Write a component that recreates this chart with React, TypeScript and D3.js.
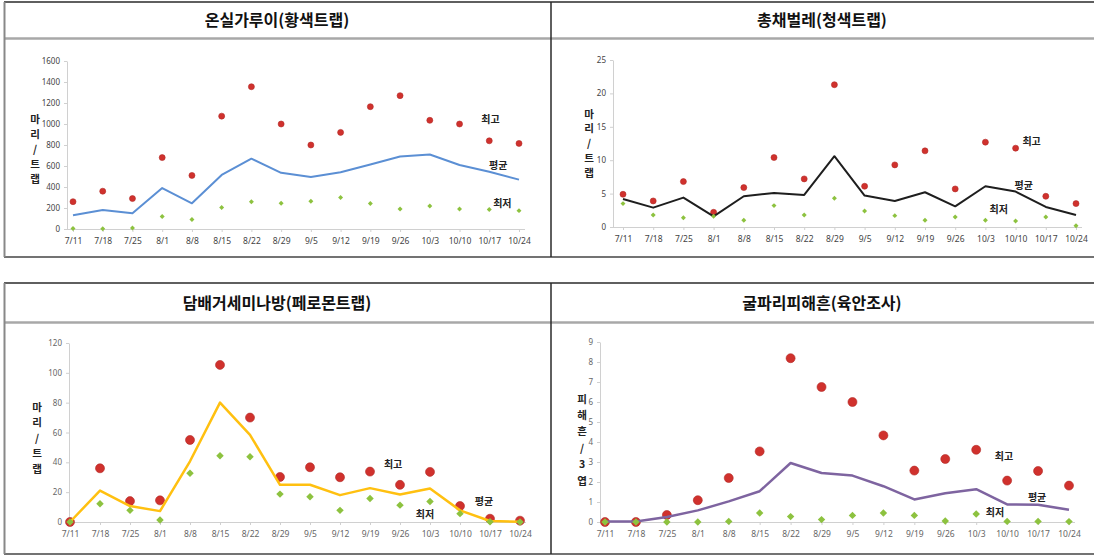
import React, { useEffect, useRef } from "react";
import * as d3 from "d3";

// survey dates (x categories)
const dates = ["7/11", "7/18", "7/25", "8/1", "8/8", "8/15", "8/22", "8/29", "9/5", "9/12", "9/19", "9/26", "10/3", "10/10", "10/17", "10/24"];

// 온실가루이 (황색트랩)
const whiteflyMax = [260, 360, 290, 680, 510, 1075, 1355, 1000, 800, 920, 1165, 1270, 1035, 1000, 840, 815];
const whiteflyAvg = [130, 180, 150, 390, 245, 515, 670, 535, 495, 540, 615, 690, 710, 610, 545, 470];
const whiteflyMin = [5, 3, 10, 120, 90, 205, 260, 245, 265, 300, 242, 190, 220, 190, 185, 175];

// 총채벌레 (청색트랩)
const thripsMax = [4.9, 3.9, 6.8, 2.2, 5.9, 10.4, 7.2, 21.3, 6.1, 9.3, 11.4, 5.7, 12.7, 11.8, 4.6, 3.5];
const thripsAvg = [4.2, 2.9, 4.4, 1.6, 4.6, 5.1, 4.8, 10.6, 4.7, 3.9, 5.2, 3.1, 6.1, 5.3, 3.0, 1.8];
const thripsMin = [3.5, 1.8, 1.4, 1.6, 1.0, 3.2, 1.8, 4.3, 2.4, 1.7, 1.0, 1.5, 1.0, 0.9, 1.5, 0.2];

// 담배거세미나방 (페로몬트랩)
const armywormMax = [0, 36, 14, 14.5, 55, 105.3, 70, 30.2, 36.7, 30, 33.8, 24.9, 33.6, 10.7, 2.2, 0.9];
const armywormAvg = [0, 21.1, 10.7, 7.3, 40.7, 80, 58.4, 24.9, 25, 18, 22.7, 18.4, 22.4, 7.8, 0.7, 0.2];
const armywormMin = [0, 12.2, 7.8, 1.3, 32.7, 44.4, 43.8, 18.7, 16.9, 7.8, 15.8, 11.3, 13.8, 5.6, 0.2, 0];

// 굴파리 피해흔 (육안조사)
const leafminerMax = [0, 0, 0.35, 1.09, 2.2, 3.53, 8.19, 6.75, 6.0, 4.33, 2.57, 3.15, 3.61, 2.07, 2.55, 1.82];
const leafminerAvg = [0.02, 0.03, 0.25, 0.58, 1.03, 1.54, 2.95, 2.45, 2.32, 1.79, 1.13, 1.44, 1.64, 0.88, 0.86, 0.61];
const leafminerMin = [0, 0, 0, 0, 0.03, 0.45, 0.27, 0.12, 0.33, 0.45, 0.33, 0.05, 0.4, 0.03, 0.03, 0.02];

const seriesNames = ["최고", "평균", "최저"];

const KR = "'Noto Sans CJK KR', 'Noto Sans', sans-serif";
const NUM = "'Noto Sans', 'Liberation Sans', sans-serif";

interface Panel {
  title: string;
  titleX: number;
  titleY: number;
  yLabel: string[];
  yLabelX: number;
  yLabelY: number;
  yLabelGap: number;
  yMax: number;
  yStep: number;
  axisX: number;
  firstX: number;
  lastX: number;
  y0: number;
  yTop: number;
  color: string;
  lineW: number;
  dotR: number;
  diaR: number;
  tickColor: string;
  maxV: number[];
  avgV: number[];
  minV: number[];
  // label anchors in data units: [category index, value]
  labelAt: [number, number][];
}

const panels: Panel[] = [
  {
    title: "온실가루이(황색트랩)", titleX: 277, titleY: 26,
    yLabel: ["마", "리", "/", "트", "랩"], yLabelX: 35, yLabelY: 118, yLabelGap: 15,
    yMax: 1600, yStep: 200, axisX: 67, firstX: 73, lastX: 519, y0: 229, yTop: 61,
    color: "#5b8fd4", lineW: 2, dotR: 3, diaR: 2.8, tickColor: "#444",
    maxV: whiteflyMax, avgV: whiteflyAvg, minV: whiteflyMin,
    labelAt: [[14.04, 1057], [14.3, 610], [14.44, 257]],
  },
  {
    title: "총채벌레(청색트랩)", titleX: 822, titleY: 26,
    yLabel: ["마", "리", "/", "트", "랩"], yLabelX: 589, yLabelY: 113, yLabelGap: 14.8,
    yMax: 25, yStep: 5, axisX: 613, firstX: 623, lastX: 1076, y0: 227, yTop: 60,
    color: "#1e1e1e", lineW: 2, dotR: 3, diaR: 2.8, tickColor: "#444",
    maxV: thripsMax, avgV: thripsAvg, minV: thripsMin,
    labelAt: [[13.53, 12.9], [13.27, 6.4], [12.44, 2.7]],
  },
  {
    title: "담배거세미나방(페로몬트랩)", titleX: 277, titleY: 309,
    yLabel: ["마", "리", "/", "트", "랩"], yLabelX: 37, yLabelY: 406, yLabelGap: 15.5,
    yMax: 120, yStep: 20, axisX: 69, firstX: 70, lastX: 520, y0: 522, yTop: 343,
    color: "#ffc010", lineW: 2.5, dotR: 4.5, diaR: 4.2, tickColor: "#666",
    maxV: armywormMax, avgV: armywormAvg, minV: armywormMin,
    labelAt: [[10.77, 39.5], [13.8, 14.7], [11.83, 5.4]],
  },
  {
    title: "굴파리피해흔(육안조사)", titleX: 822, titleY: 309,
    yLabel: ["피", "해", "흔", "/", "3", "엽"], yLabelX: 582, yLabelY: 398, yLabelGap: 16.4,
    yMax: 9, yStep: 1, axisX: 600, firstX: 605, lastX: 1069, y0: 522, yTop: 342,
    color: "#7e64a0", lineW: 2.5, dotR: 4.5, diaR: 4.2, tickColor: "#666",
    maxV: leafminerMax, avgV: leafminerAvg, minV: leafminerMin,
    labelAt: [[12.9, 3.35], [13.97, 1.3], [12.61, 0.55]],
  },
];

function drawPanel(root: d3.Selection<SVGGElement, unknown, null, undefined>, p: Panel) {
  const g = root.append("g");
  const x = d3.scalePoint<string>().domain(dates).range([p.firstX, p.lastX]);
  const y = d3.scaleLinear().domain([0, p.yMax]).range([p.y0, p.yTop]);
  const step = x.step();

  // title
  g.append("text")
    .attr("x", p.titleX)
    .attr("y", p.titleY)
    .attr("text-anchor", "middle")
    .attr("font-family", KR)
    .attr("font-weight", 700)
    .attr("font-size", 16)
    .attr("fill", "#111")
    .text(p.title);

  // y axis
  const ya = g
    .append("g")
    .attr("transform", `translate(${p.axisX},0)`)
    .call(
      d3.axisLeft(y)
        .tickValues(d3.range(0, p.yMax + p.yStep / 2, p.yStep))
        .tickFormat(d3.format("d"))
        .tickSizeInner(3)
        .tickSizeOuter(0)
        .tickPadding(4)
    );
  ya.select(".domain").attr("stroke", "#d0d0d0");
  ya.selectAll(".tick line").attr("stroke", "#d0d0d0");
  ya.selectAll(".tick text")
    .attr("font-family", NUM)
    .attr("font-size", 8)
    .attr("fill", p.tickColor);

  // x axis
  const xa = g
    .append("g")
    .attr("transform", `translate(0,${p.y0})`)
    .call(d3.axisBottom(x).tickSizeInner(3).tickSizeOuter(0).tickPadding(6));
  xa.select(".domain").remove();
  xa.selectAll(".tick line").attr("stroke", "#d0d0d0");
  xa.selectAll(".tick text")
    .attr("font-family", NUM)
    .attr("font-size", 8.5)
    .attr("fill", p.tickColor);
  g.append("line")
    .attr("x1", p.axisX)
    .attr("x2", p.lastX + 6)
    .attr("y1", p.y0 + 0.5)
    .attr("y2", p.y0 + 0.5)
    .attr("stroke", "#d0d0d0");

  // y axis title, stacked characters
  g.append("g")
    .selectAll("text")
    .data(p.yLabel)
    .join("text")
    .attr("x", p.yLabelX)
    .attr("y", (_d, i) => p.yLabelY + i * p.yLabelGap)
    .attr("text-anchor", "middle")
    .attr("dominant-baseline", "central")
    .attr("font-family", KR)
    .attr("font-weight", 700)
    .attr("font-size", 10.5)
    .attr("fill", "#222")
    .text((d) => d);

  // 최고 (red dots)
  g.append("g")
    .selectAll("circle")
    .data(p.maxV)
    .join("circle")
    .attr("cx", (_d, i) => x(dates[i]) as number)
    .attr("cy", (d) => y(d))
    .attr("r", p.dotR)
    .attr("fill", "#d0312d")
    .attr("stroke", "#b22a26")
    .attr("stroke-width", 0.6);

  // 평균 (line)
  const line = d3
    .line<number>()
    .x((_d, i) => x(dates[i]) as number)
    .y((d) => y(d));
  g.append("path")
    .datum(p.avgV)
    .attr("d", line)
    .attr("fill", "none")
    .attr("stroke", p.color)
    .attr("stroke-width", p.lineW)
    .attr("stroke-linejoin", "round");

  // 최저 (green diamonds)
  const dia = d3.symbol().type(d3.symbolDiamond2).size(p.diaR * p.diaR * 2);
  g.append("g")
    .selectAll("path")
    .data(p.minV)
    .join("path")
    .attr("d", dia)
    .attr("transform", (d, i) => `translate(${x(dates[i])},${y(d)})`)
    .attr("fill", "#8dc23f");

  // series labels
  g.append("g")
    .selectAll("text")
    .data(p.labelAt)
    .join("text")
    .attr("x", (d) => p.firstX + d[0] * step)
    .attr("y", (d) => y(d[1]))
    .attr("text-anchor", "middle")
    .attr("dominant-baseline", "central")
    .attr("font-family", KR)
    .attr("font-weight", 700)
    .attr("font-size", 10)
    .attr("fill", "#222")
    .text((_d, i) => seriesNames[i]);
}

function drawTables(svg: d3.Selection<SVGGElement, unknown, null, undefined>) {
  const tables = [
    { top: 2, head: 38.5, bottom: 257 },
    { top: 283, head: 322.5, bottom: 554 },
  ];
  tables.forEach((t) => {
    svg.append("line").attr("x1", 4).attr("x2", 1094).attr("y1", t.top).attr("y2", t.top)
      .attr("stroke", "#2a2a2a").attr("stroke-width", 1.5);
    svg.append("line").attr("x1", 4).attr("x2", 1094).attr("y1", t.head).attr("y2", t.head)
      .attr("stroke", "#a8a8a8").attr("stroke-width", 2.5);
    svg.append("line").attr("x1", 4).attr("x2", 1094).attr("y1", t.bottom).attr("y2", t.bottom)
      .attr("stroke", "#444").attr("stroke-width", 1.5);
    svg.append("line").attr("x1", 4.5).attr("x2", 4.5).attr("y1", t.top).attr("y2", t.bottom)
      .attr("stroke", "#888").attr("stroke-width", 2);
    svg.append("line").attr("x1", 551).attr("x2", 551).attr("y1", t.top).attr("y2", t.bottom)
      .attr("stroke", "#2a2a2a").attr("stroke-width", 1.5);
  });
}

export default function App() {
  const ref = useRef<SVGGElement>(null);

  useEffect(() => {
    if (!ref.current) return;
    const root = d3.select(ref.current);
    root.selectAll("*").remove();
    drawTables(root);
    panels.forEach((p) => drawPanel(root, p));
  }, []);

  return (
    <svg
      width={1094}
      height={556}
      style={{ position: "absolute", left: 0, top: 0, display: "block", background: "#fff" }}
    >
      <g ref={ref} />
    </svg>
  );
}
